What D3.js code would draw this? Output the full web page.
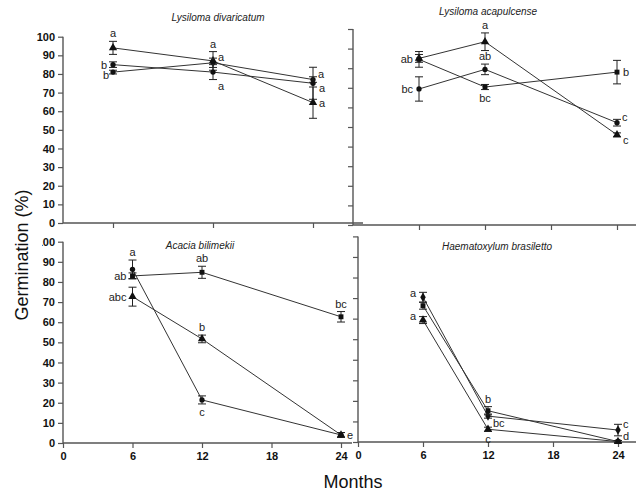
<!DOCTYPE html>
<html>
<head>
<meta charset="utf-8">
<script src="https://cdn.jsdelivr.net/npm/d3@7"></script>
<style>
  body { margin: 0; background: #fff; }
  svg { display: block; font-family: Arial, "Liberation Sans", sans-serif; }
</style>
</head>
<body>
<svg id="chart" width="636" height="491"></svg>
<script>
"use strict";

// ---- data (germination %, mean and error, at 6/12/24 months) ----
var months = [6, 12, 24];
var monthTicks = [0, 6, 12, 18, 24];
var pctTicks = [0, 10, 20, 30, 40, 50, 60, 70, 80, 90, 100];

// Lysiloma divaricatum
var divTri = [94, 87, 64.6],   divTriErr = [3.5, 5, 8.4];
var divCir = [81, 86, 77],     divCirErr = [1, 2.5, 1.5];
var divSq  = [85, 81, 75],     divSqErr  = [1.5, 4, 8.6];
var divLetters = [
  ["tri", 0, "a", "above"], ["sq", 0, "b", "left"], ["cir", 0, "b", "left-down"],
  ["tri", 1, "a", "above"], ["cir", 1, "a", "right-up"], ["sq", 1, "a", "below-right"],
  ["cir", 2, "a", "right-up"], ["sq", 2, "a", "right-down"], ["tri", 2, "a", "right"]
];

// Lysiloma acapulcense
var acaTri = [85, 93.5, 46],     acaTriErr = [2, 4.5, 1];
var acaCir = [69.4, 79.4, 52.2], acaCirErr = [6.2, 2.7, 1.7];
var acaSq  = [84.5, 70.4, 78],   acaSqErr  = [4, 1.3, 6];
var acaLetters = [
  ["sq", 0, "ab", "left"], ["cir", 0, "bc", "left"],
  ["tri", 1, "a", "above"], ["cir", 1, "ab", "above"], ["sq", 1, "bc", "below"],
  ["sq", 2, "b", "right"], ["cir", 2, "c", "right-up"], ["tri", 2, "c", "right-down"]
];

// Acacia bilimekii
var bilTri = [72.7, 51.7, 4],    bilTriErr = [4.7, 1.9, 1.2];
var bilCir = [86.3, 21.4, 4],    bilCirErr = [4.6, 2, 1.2];
var bilSq  = [83, 84.8, 62.7],   bilSqErr  = [1.5, 3, 2.6];
var bilLetters = [
  ["cir", 0, "a", "above"], ["sq", 0, "ab", "left"], ["tri", 0, "abc", "left"],
  ["sq", 1, "ab", "above"], ["tri", 1, "b", "above"], ["cir", 1, "c", "below"],
  ["sq", 2, "bc", "above"], ["cir", 2, "e", "right"]
];

// Haematoxylum brasiletto
var braTri = [59.3, 6.2, 0.2],   braTriErr = [1.7, 1, 0.5];
var braCir = [70.4, 12.6, 5.8],  braCirErr = [2.4, 1, 2.8];
var braSq  = [66.3, 15.2, 0.2],  braSqErr  = [1.7, 2, 0.5];
var braLetters = [
  ["cir", 0, "a", "left-up"], ["tri", 0, "a", "left-up"],
  ["sq", 1, "b", "above"], ["tri", 1, "bc", "right-up"], ["tri", 1, "c", "below"],
  ["cir", 2, "c", "right-up"], ["sq", 2, "d", "right-up"]
];

// ---- layout ----
var svg = d3.select("#chart");
var axisCol = "#555", lineCol = "#333";

var panels = [
  { title: "Lysiloma divaricatum", tx: 218, ty: 21,
    x: d3.scalePoint().domain(months).range([63, 363]).padding(0.5),
    y: d3.scaleLinear().domain([0, 100]).range([223, 36.7]),
    xEnd: 363, xTickVals: months, xLabels: false, yLabels: true,
    series: { tri: [divTri, divTriErr, "tri"], cir: [divCir, divCirErr, "cir"], sq: [divSq, divSqErr, "cir"] },
    letters: divLetters },
  { title: "Lysiloma acapulcense", tx: 488, ty: 15,
    x: d3.scaleLinear().domain([0, 24]).range([353, 617]),
    y: d3.scaleLinear().domain([0, 100]).range([225, 29]),
    xEnd: 636, xTickVals: [6, 12, 18, 24], xLabels: false, yLabels: false,
    series: { tri: [acaTri, acaTriErr, "tri"], cir: [acaCir, acaCirErr, "cir"], sq: [acaSq, acaSqErr, "sq"] },
    letters: acaLetters },
  { title: "Acacia bilimekii", tx: 200, ty: 249,
    x: d3.scaleLinear().domain([0, 24]).range([63, 341]),
    y: d3.scaleLinear().domain([0, 100]).range([443, 241.7]),
    xEnd: 352, xTickVals: monthTicks, xLabels: true, yLabels: true, clipX: 42,
    series: { tri: [bilTri, bilTriErr, "tri"], cir: [bilCir, bilCirErr, "cir"], sq: [bilSq, bilSqErr, "sq"] },
    letters: bilLetters },
  { title: "Haematoxylum brasiletto", tx: 497, ty: 250,
    x: d3.scaleLinear().domain([0, 24]).range([358, 618]),
    y: d3.scaleLinear().domain([0, 100]).range([442, 236.4]),
    xEnd: 636, xTickVals: monthTicks, xLabels: true, yLabels: false,
    series: { tri: [braTri, braTriErr, "tri"], cir: [braCir, braCirErr, "dia"], sq: [braSq, braSqErr, "sq"] },
    letters: braLetters }
];

var symbols = {
  tri: d3.symbol().type(d3.symbolTriangle).size(30),
  cir: d3.symbol().type(d3.symbolCircle).size(22),
  sq:  d3.symbol().type(d3.symbolSquare).size(24),
  dia: d3.symbol().type(d3.symbolDiamond).size(26)
};

// clip for the partly hidden "100" of the lower-left panel (page coords)
svg.append("clipPath").attr("id", "clipLeft")
  .append("rect").attr("x", 42).attr("y", 0).attr("width", 600).attr("height", 491);

panels.forEach(function(p) {
  var g = svg.append("g").attr("class", "panel");
  var x = p.x, y = p.y;
  var x0 = x.range()[0];

  // y axis (wrapped so the clip works in page coordinates)
  var yWrap = g.append("g");
  if (p.clipX) yWrap.attr("clip-path", "url(#clipLeft)");
  var yAx = yWrap.append("g")
    .attr("transform", "translate(" + x0 + ",0)")
    .call(d3.axisLeft(y).tickValues(pctTicks).tickSize(5).tickPadding(3)
      .tickFormat(p.yLabels ? d3.format("d") : ""));
  yAx.select(".domain").remove();
  yAx.selectAll("line").attr("stroke", axisCol).attr("stroke-width", 1.2);
  yAx.selectAll("text").attr("font-size", 11).attr("font-weight", "bold").attr("fill", "#111");

  // x axis
  var xAx = g.append("g")
    .attr("transform", "translate(0," + y(0) + ")")
    .call(d3.axisBottom(x).tickValues(p.xTickVals).tickSize(5).tickPadding(4)
      .tickFormat(p.xLabels ? d3.format("d") : ""));
  xAx.select(".domain").remove();
  xAx.selectAll("line").attr("stroke", axisCol).attr("stroke-width", 1.2);
  xAx.selectAll("text").attr("font-size", 11).attr("font-weight", "bold").attr("fill", "#111");

  // axis lines
  g.append("line")
    .attr("x1", x0).attr("x2", x0).attr("y1", y(0)).attr("y2", y(100))
    .attr("stroke", axisCol).attr("stroke-width", 1.4);
  g.append("line")
    .attr("x1", x0).attr("x2", p.xEnd).attr("y1", y(0)).attr("y2", y(0))
    .attr("stroke", axisCol).attr("stroke-width", 1.4);

  // title
  g.append("text")
    .attr("x", p.tx).attr("y", p.ty)
    .attr("text-anchor", "middle")
    .attr("font-size", 10).attr("font-style", "italic").attr("fill", "#222")
    .text(p.title);

  var line = d3.line()
    .x(function(d) { return x(d.m); })
    .y(function(d) { return y(d.v); });

  Object.keys(p.series).forEach(function(key) {
    var s = p.series[key];
    var pts = months.map(function(m, i) { return { m: m, v: s[0][i], e: s[1][i] }; });

    g.append("path").datum(pts)
      .attr("d", line)
      .attr("fill", "none")
      .attr("stroke", lineCol).attr("stroke-width", 1);

    // error bars
    var eb = g.selectAll(null).data(pts).enter().append("g");
    eb.append("line")
      .attr("x1", function(d) { return x(d.m); }).attr("x2", function(d) { return x(d.m); })
      .attr("y1", function(d) { return y(d.v - d.e); }).attr("y2", function(d) { return y(d.v + d.e); })
      .attr("stroke", "#222").attr("stroke-width", 1);
    [-1, 1].forEach(function(sgn) {
      eb.append("line")
        .attr("x1", function(d) { return x(d.m) - 4; }).attr("x2", function(d) { return x(d.m) + 4; })
        .attr("y1", function(d) { return y(d.v + sgn * d.e); }).attr("y2", function(d) { return y(d.v + sgn * d.e); })
        .attr("stroke", "#222").attr("stroke-width", 1);
    });

    // markers
    g.selectAll(null).data(pts).enter().append("path")
      .attr("d", symbols[s[2]])
      .attr("transform", function(d) { return "translate(" + x(d.m) + "," + y(d.v) + ")"; })
      .attr("fill", "#111");
  });

  // significance letters
  p.letters.forEach(function(L) {
    var s = p.series[L[0]], i = L[1];
    var v = s[0][i], e = s[1][i];
    var px = x(months[i]), py = y(v);
    var tx = px, ty = py + 4, anchor = "middle";
    switch (L[3]) {
      case "above":       ty = y(v + e) - 4; break;
      case "below":       ty = y(v - e) + 12; break;
      case "below-right": tx = px + 5; ty = y(v - e) + 10; anchor = "start"; break;
      case "left":        tx = px - 6; anchor = "end"; break;
      case "left-up":     tx = px - 7; ty = py; anchor = "end"; break;
      case "left-down":   tx = px - 4; ty = py + 7; anchor = "end"; break;
      case "right":       tx = px + 6; anchor = "start"; break;
      case "right-up":    tx = px + 5; ty = py - 2; anchor = "start"; break;
      case "right-down":  tx = px + 6; ty = py + 9; anchor = "start"; break;
    }
    g.append("text")
      .attr("x", tx).attr("y", ty)
      .attr("text-anchor", anchor)
      .attr("font-size", 11).attr("fill", "#222")
      .text(L[2]);
  });
});

// shared axis titles
svg.append("text")
  .attr("transform", "translate(28,255) rotate(-90)")
  .attr("text-anchor", "middle")
  .attr("font-size", 18).attr("fill", "#111")
  .text("Germination (%)");

svg.append("text")
  .attr("x", 353).attr("y", 488)
  .attr("text-anchor", "middle")
  .attr("font-size", 18).attr("fill", "#111")
  .text("Months");
</script>
</body>
</html>
